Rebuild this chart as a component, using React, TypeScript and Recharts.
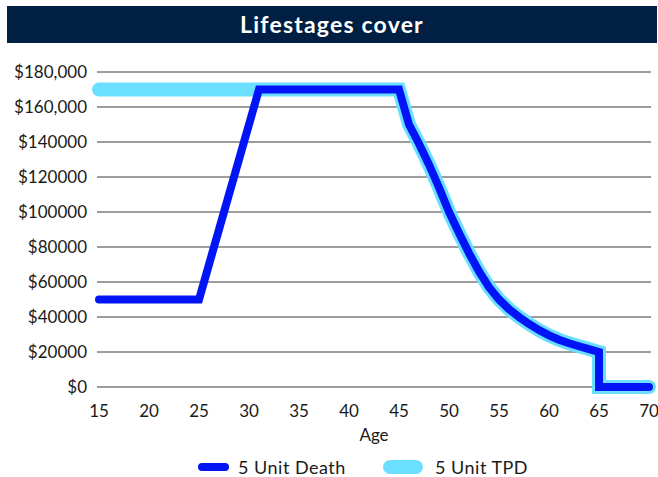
import { LineChart, Line, XAxis, YAxis, CartesianGrid } from 'recharts';

const ages = [15, 25, 31, 45, 46, 47, 48, 49, 50, 51, 52, 53, 54, 55, 56, 57, 58, 59, 60, 61, 62, 63, 64, 65, 65, 70];
const deathCover = [50000, 50000, 170000, 170000, 150000, 139000, 127000, 114000, 100000, 88000, 76500, 66000, 57000, 50000, 44500, 40000, 36000, 32500, 29500, 27000, 25000, 23300, 21700, 20000, 0, 0];
const tpdCover = [170000, 170000, 170000, 170000, 150000, 139000, 127000, 114000, 100000, 88000, 76500, 66000, 57000, 50000, 44500, 40000, 36000, 32500, 29500, 27000, 25000, 23300, 21700, 20000, 0, 0];

const xTicks = [15, 20, 25, 30, 35, 40, 45, 50, 55, 60, 65, 70];
const yTicks = [0, 20000, 40000, 60000, 80000, 100000, 120000, 140000, 160000, 180000];
const yTickLabels = ['$0', '$20000', '$40000', '$60000', '$80000', '$100000', '$120000', '$140000', '$160,000', '$180,000'];

const data = ages.map((age, i) => ({ age, death: deathCover[i], tpd: tpdCover[i] }));

const DEATH = '#0014F5';
const TPD = '#6ADFFF';
const FONT = 'Lato, "Noto Sans", sans-serif';

export default function App() {
  return (
    <div style={{ position: 'absolute', left: 0, top: 0, width: 658, height: 477, background: '#fff', fontFamily: FONT }}>
      <div
        style={{
          position: 'absolute', left: 7, top: 6, width: 650, height: 37, background: '#001F42',
          color: '#fff', fontSize: 23, fontWeight: 700, letterSpacing: 1.2, textAlign: 'center', lineHeight: '37px',
        }}
      >
        Lifestages cover
      </div>
      <LineChart width={658} height={450} data={data} margin={{ top: 72, right: 7, bottom: 0, left: 0 }}>
        <CartesianGrid vertical={false} stroke="#3a3a3a" />
        <XAxis
          dataKey="age"
          type="number"
          domain={[15, 70]}
          ticks={xTicks}
          padding={{ left: 2, right: 2 }}
          axisLine={false}
          tickLine={false}
          tickMargin={12}
          height={63}
          tick={{ fill: '#1a1a1a', fontSize: 17, fontFamily: FONT }}
          label={{ value: 'Age', position: 'insideBottom', offset: 9, fill: '#1a1a1a', fontSize: 17, fontFamily: FONT }}
        />
        <YAxis
          type="number"
          domain={[0, 180000]}
          ticks={yTicks}
          width={97}
          axisLine={false}
          tickLine={false}
          tickMargin={4}
          tickFormatter={(v: number) => yTickLabels[yTicks.indexOf(v)]}
          tick={{ fill: '#1a1a1a', fontSize: 17, fontFamily: FONT }}
        />
        <Line
          dataKey="tpd"
          name="5 Unit TPD"
          stroke={TPD}
          strokeWidth={14}
          strokeLinecap="round"
          dot={false}
          isAnimationActive={false}
        />
        <Line
          dataKey="death"
          name="5 Unit Death"
          stroke={DEATH}
          strokeWidth={8}
          strokeLinecap="round"
          dot={false}
          isAnimationActive={false}
        />
      </LineChart>
      <div style={{ position: 'absolute', left: 0, top: 454, width: 658, height: 24, fontSize: 18, color: '#1a1a1a' }}>
        <div style={{ position: 'absolute', left: 198, top: 9, width: 31, height: 8, borderRadius: 4, background: DEATH }} />
        <div style={{ position: 'absolute', left: 238, top: 2, lineHeight: '22px', letterSpacing: 0.5 }}>5 Unit Death</div>
        <div style={{ position: 'absolute', left: 383, top: 6, width: 40, height: 14, borderRadius: 7, background: TPD }} />
        <div style={{ position: 'absolute', left: 435, top: 2, lineHeight: '22px', letterSpacing: 0.5 }}>5 Unit TPD</div>
      </div>
    </div>
  );
}
